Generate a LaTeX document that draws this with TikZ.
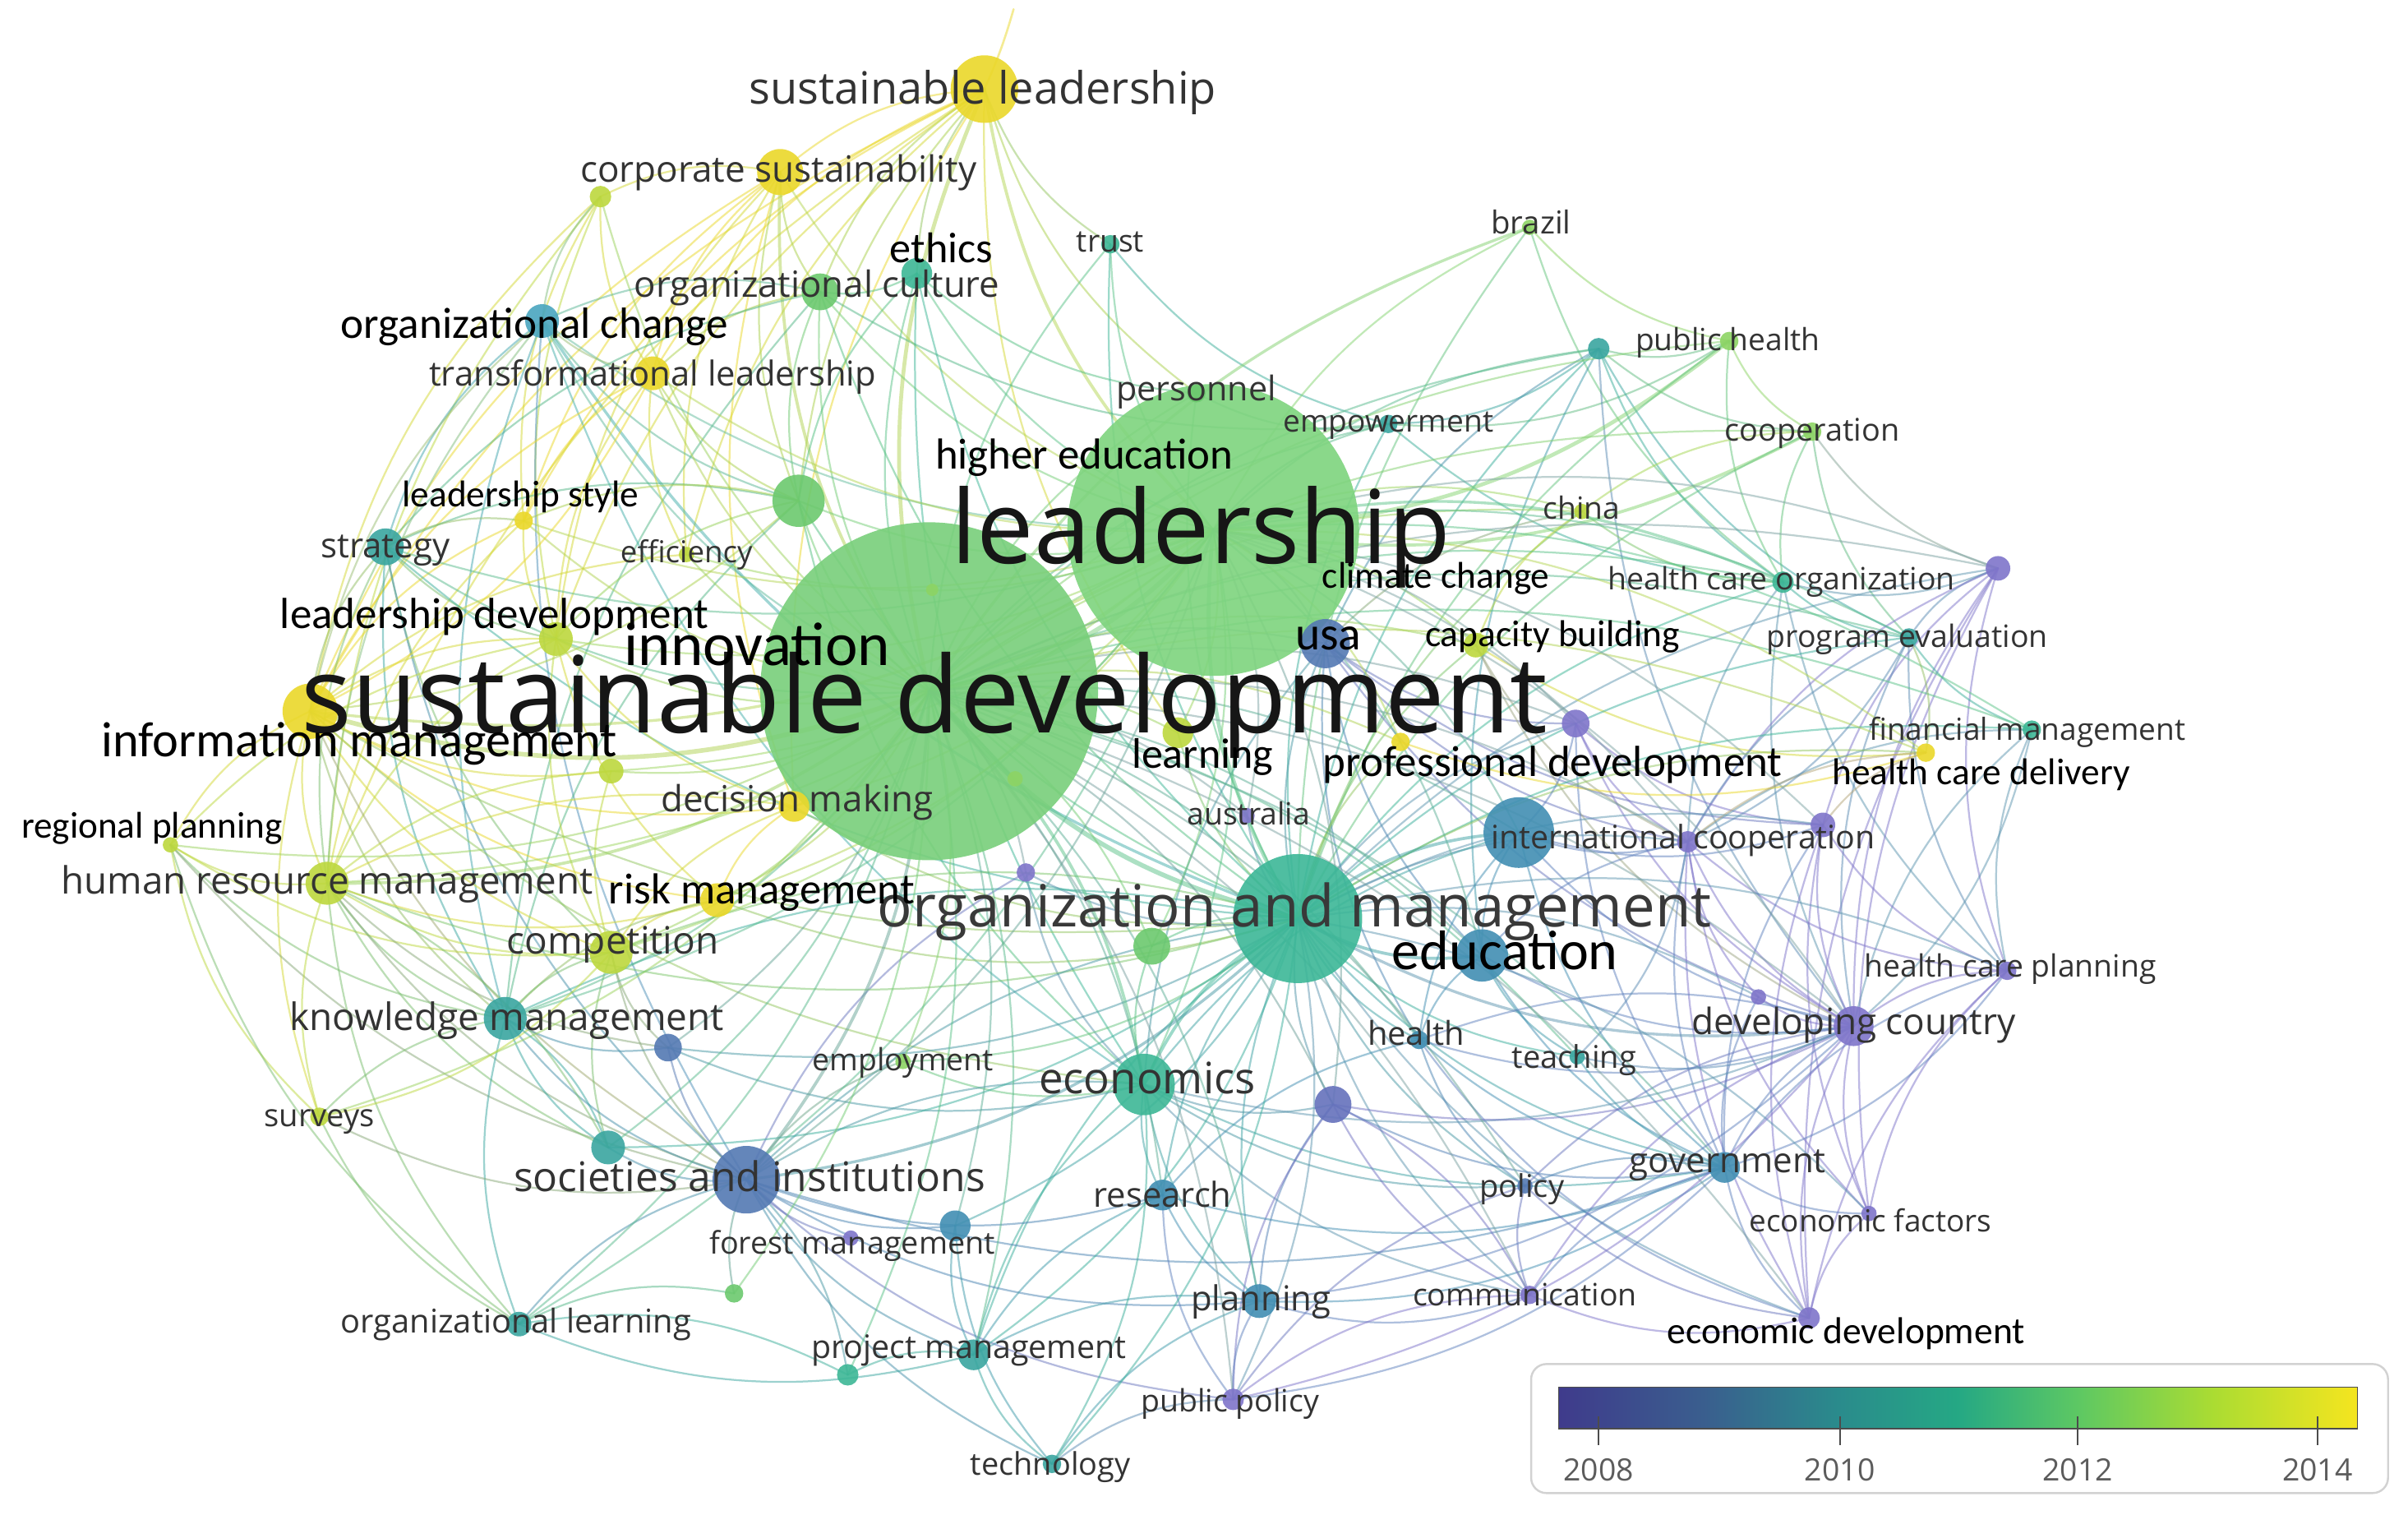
\documentclass[tikz,border=0pt]{standalone}
\usepackage{fontspec}
\usepackage{graphicx}
\newfontfamily\osans{Open Sans}
\newfontfamily\carl{Carlito}
\definecolor{cY}{HTML}{EBD82A}
\definecolor{cYG}{HTML}{BDD83E}
\definecolor{cLG}{HTML}{8DD464}
\definecolor{cG}{HTML}{6CC96E}
\definecolor{cTG}{HTML}{3DB796}
\definecolor{cT}{HTML}{3AA6A0}
\definecolor{cC}{HTML}{4AA6BF}
\definecolor{cBT}{HTML}{428FB3}
\definecolor{cB}{HTML}{5479B3}
\definecolor{cBP}{HTML}{6572BC}
\definecolor{cP}{HTML}{7F75CA}
\definecolor{cSD}{HTML}{78CF7A}
\definecolor{cLD}{HTML}{7ED47E}
\definecolor{cOM}{HTML}{3CB797}
\definecolor{lbl}{HTML}{333333}
\definecolor{dark}{HTML}{161616}
\definecolor{vA}{HTML}{3F3B8C}
\definecolor{vB}{HTML}{3A5E8E}
\definecolor{vC}{HTML}{2A8B8C}
\definecolor{vD}{HTML}{25A884}
\definecolor{vE}{HTML}{5DC863}
\definecolor{vF}{HTML}{ABDC32}
\definecolor{vG}{HTML}{F5E51F}
\pgfdeclarehorizontalshading{viridis}{100bp}{color(0bp)=(vA); color(25bp)=(vA); color(34bp)=(vB); color(42.5bp)=(vC); color(50bp)=(vD); color(57.5bp)=(vE); color(66bp)=(vF); color(75bp)=(vG); color(100bp)=(vG)}
\tikzset{
  edge/.style={draw opacity=0.5, bend right=18, line cap=round},
  bub/.style={circle, inner sep=0pt, draw=none, fill opacity=0.9},
  lab/.style={text=lbl, inner sep=0pt, font=\osans},
  blk/.style={text=black, inner sep=0pt, font=\carl},
  year/.style={text=lbl!80!white, inner sep=0pt, font=\osans\fontsize{20}{20}\selectfont}
}
\newcommand\E[3][1.2]{\draw[edge, line width=#1pt, draw=q#2!50!q#3] (#2) to (#3);}
\newcommand\fx[2]{\resizebox{#1pt}{!}{\raisebox{0pt}[0.72em][0pt]{#2}}}
\newcommand\Lg[5]{\node[lab] (#1) at (#2,#3) {\fx{#4}{#5}};}
\newcommand\Lb[5]{\node[blk] (#1) at (#2,#3) {\fx{#4}{#5}};}
\newcommand\nodelist{%
\N{sd}{605}{450}{110}{cSD}%
\N{ld}{790}{345}{95}{cLD}%
\N{om}{845}{598}{42}{cOM}%
\N{sl}{641}{58}{22}{cY}%
\N{cs}{508}{112}{15}{cY}%
\N{ua}{391}{128}{7}{cYG}%
\N{oc}{534}{190}{12}{cG}%
\N{eth}{597}{178}{10}{cTG}%
\N{tr}{723}{159}{6}{cTG}%
\N{br}{996}{148}{5}{cLG}%
\N{och}{353}{209}{11}{cC}%
\N{tl}{425}{243}{11}{cY}%
\N{pers}{779}{256}{6}{cG}%
\N{emp}{904}{276}{6}{cT}%
\N{ut}{1041}{227}{7}{cT}%
\N{ph}{1126}{222}{6}{cLG}%
\N{coop}{1180}{281}{6}{cLG}%
\N{ub}{520}{326}{17}{cG}%
\N{lst}{341}{339}{6}{cY}%
\N{str}{251}{356}{12}{cT}%
\N{eff}{447}{361}{5}{cYG}%
\N{chi}{1030}{333}{5}{cYG}%
\N{hco}{1161}{379}{7}{cTG}%
\N{up}{1301}{370}{8}{cP}%
\N{ldv}{362}{416}{11}{cYG}%
\N{usa}{863}{419}{16}{cB}%
\N{cb}{961}{420}{8}{cYG}%
\N{pe}{1243}{415}{6}{cT}%
\N{im}{202}{463}{18}{cY}%
\N{uq}{1026}{471}{9}{cP}%
\N{fm}{1323}{475}{6}{cTG}%
\N{lrn}{767}{477}{10}{cYG}%
\N{pdv}{912}{483}{6}{cY}%
\N{hcd}{1254}{490}{6}{cY}%
\N{dm}{517}{525}{10}{cY}%
\N{uc}{398}{502}{8}{cYG}%
\N{rp}{111}{550}{5}{cYG}%
\N{aus}{812}{531}{5}{cP}%
\N{icb}{989}{542}{23}{cBT}%
\N{ici}{1099}{548}{7}{cP}%
\N{ur}{1187}{537}{8}{cP}%
\N{us}{668}{568}{6}{cP}%
\N{hrm}{213}{575}{14}{cYG}%
\N{risk}{467}{586}{11}{cY}%
\N{comp}{398}{620}{14}{cYG}%
\N{uv}{750}{616}{12}{cG}%
\N{edu}{965}{622}{17}{cBT}%
\N{hcp}{1307}{632}{6}{cP}%
\N{uw}{1145}{649}{5}{cP}%
\N{km}{329}{663}{14}{cT}%
\N{dc}{1207}{668}{13}{cP}%
\N{ux}{435}{682}{9}{cB}%
\N{hea}{924}{677}{6}{cBT}%
\N{tea}{1027}{688}{5}{cT}%
\N{emq}{588}{691}{5}{cLG}%
\N{eco}{745}{706}{20}{cTG}%
\N{uy}{868}{719}{12}{cBP}%
\N{sur}{208}{727}{6}{cYG}%
\N{uz}{396}{747}{11}{cT}%
\N{sai}{486}{768}{22}{cB}%
\N{gov}{1123}{760}{10}{cBT}%
\N{res}{757}{778}{10}{cBT}%
\N{pol}{993}{772}{5}{cB}%
\N{ef}{1217}{790}{5}{cP}%
\N{fmg}{622}{798}{10}{cBT}%
\N{uu}{554}{806}{5}{cP}%
\N{ug}{478}{842}{6}{cG}%
\N{pla}{820}{847}{11}{cBT}%
\N{com}{996}{843}{6}{cP}%
\N{ol}{338}{862}{8}{cT}%
\N{ed}{1178}{858}{7}{cP}%
\N{pm}{634}{882}{10}{cT}%
\N{uh}{552}{895}{7}{cTG}%
\N{pp}{803}{911}{7}{cP}%
\N{tec}{685}{953}{6}{cT}%
\N{ia}{607}{384}{4}{cLG}%
\N{ib}{661}{507}{5}{cLG}%
}
\begin{document}
\begin{tikzpicture}[x=1pt,y=-1pt]
\fill[white] (0,0) rectangle (1568,986);
\useasboundingbox (0,0) rectangle (1568,986);
% pass 1: centres and colours
\def\N#1#2#3#4#5{\coordinate (#1) at (#2,#3); \colorlet{q#1}{#5}}
\nodelist
\coordinate (sltop) at (660,6);
% ---------------- edges ----------------
\draw[edge, line width=1.4pt, draw=cY, bend right=4] (sl) to (sltop);
\E[2.5]{sl}{sd} \E[2]{sl}{ld} \E{sl}{cs} \E{sl}{oc} \E{sl}{tl} \E{sl}{ldv} \E{sl}{lst} \E{sl}{ub} \E{sl}{eth} \E{sl}{pers} \E{sl}{im} \E{sl}{dm} \E{sl}{lrn} \E{sl}{hrm} \E{sl}{eff} \E{sl}{tr}
\E{cs}{ua} \E[2]{cs}{sd} \E{cs}{ld} \E{cs}{oc} \E{cs}{tl} \E{cs}{lst} \E{cs}{ldv} \E{cs}{im} \E{cs}{eff} \E{cs}{dm} \E{cs}{ub}
\E{ua}{tl} \E{ua}{ldv} \E{ua}{im} \E{ua}{lst} \E{ua}{sd} \E{ua}{hrm} \E{ua}{och}
\E{oc}{sd} \E{oc}{ld} \E{oc}{eth} \E{oc}{och} \E{oc}{tl} \E{oc}{ub} \E{oc}{str} \E{oc}{km} \E{oc}{om} \E{oc}{emp}
\E{eth}{sd} \E{eth}{ld} \E{eth}{ub} \E{eth}{pers} \E{eth}{om} \E{eth}{eco}
\E{tr}{ld} \E{tr}{sd} \E{tr}{om} \E{tr}{emp}
\E{br}{ld} \E[1.8]{br}{sd} \E{br}{hco} \E{br}{ph} \E{br}{om}
\E{och}{sd} \E{och}{ld} \E{och}{str} \E{och}{ub} \E{och}{tl} \E{och}{km} \E[1.8]{och}{om} \E{och}{im} \E{och}{eco} \E{och}{hrm} \E{och}{sai}
\E{tl}{sd} \E{tl}{ld} \E{tl}{lst} \E{tl}{ldv} \E{tl}{im} \E{tl}{ub} \E{tl}{eff}
\E{pers}{sd} \E{pers}{om} \E{pers}{emp}
\E{emp}{ld} \E{emp}{sd} \E{emp}{om} \E{emp}{ut} \E{emp}{hco} \E{emp}{ph}
\E{ut}{ld} \E{ut}{sd} \E{ut}{ph} \E{ut}{coop} \E{ut}{hco} \E{ut}{pe} \E{ut}{om} \E{ut}{edu} \E{ut}{dc} \E{ut}{usa}
\E[2.5]{ld}{ph} \E{ph}{sd} \E{ph}{coop} \E{ph}{hco} \E{ph}{om}
\E[2]{ld}{coop} \E{coop}{sd} \E{coop}{hco} \E{coop}{pe} \E{coop}{up} \E{coop}{om} \E{coop}{chi}
\E{ub}{sd} \E{ub}{ld} \E{ub}{str} \E{ub}{km} \E{ub}{om} \E{ub}{eco} \E{ub}{lst} \E{ub}{ldv}
\E{lst}{sd} \E{lst}{ld} \E{lst}{ldv} \E{lst}{im} \E{lst}{str} \E{lst}{hrm}
\E{str}{sd} \E{str}{ld} \E{str}{km} \E{str}{hrm} \E{str}{ldv} \E{str}{im} \E{str}{om} \E{str}{comp} \E{str}{sai}
\E{eff}{sd} \E{eff}{ld} \E{eff}{im}
\E{chi}{ld} \E{chi}{sd} \E{chi}{om} \E{chi}{hco} \E{chi}{cb} \E{chi}{usa}
\E[1.8]{hco}{ld} \E{hco}{sd} \E{hco}{om} \E{hco}{up} \E{hco}{pe} \E{hco}{hcp} \E{hco}{dc} \E{hco}{ici}
\E{up}{ld} \E{up}{sd} \E{up}{pe} \E{up}{om} \E{up}{ici} \E{up}{hcp} \E{up}{dc} \E{up}{ed} \E{up}{ef} \E{up}{ur}
\E{ldv}{sd} \E{ldv}{ld} \E{ldv}{im} \E{ldv}{hrm} \E{ldv}{comp} \E{ldv}{risk} \E{ldv}{dm} \E{ldv}{rp}
\E{usa}{sd} \E{usa}{ld} \E{usa}{om} \E{usa}{ici} \E{usa}{edu} \E{usa}{uq} \E{usa}{hea} \E{usa}{eco} \E{usa}{dc} \E{usa}{ur}
\E{cb}{sd} \E{cb}{ld} \E{cb}{om} \E{cb}{hcd} \E{cb}{ici} \E{cb}{dc}
\E{pe}{ld} \E{pe}{sd} \E{pe}{om} \E{pe}{fm} \E{pe}{hcp} \E{pe}{dc} \E{pe}{ici}
\E[3]{im}{sd} \E[1.8]{im}{ld} \E{im}{hrm} \E{im}{rp} \E{im}{comp} \E{im}{km} \E{im}{sur} \E{im}{dm} \E{im}{risk} \E{im}{uc} \E{im}{om} \E{im}{sai} \E{im}{tl} \E{im}{ub} \E{im}{eco}
\E{uq}{sd} \E{uq}{ld} \E{uq}{om} \E{uq}{ici} \E{uq}{dc} \E{uq}{gov} \E{uq}{ur}
\E{fm}{ld} \E{fm}{sd} \E{fm}{om} \E{fm}{hcp} \E{fm}{ici} \E{fm}{dc}
\E{lrn}{sd} \E{lrn}{ld} \E{lrn}{om}
\E{pdv}{sd} \E{pdv}{ld} \E{pdv}{om} \E{pdv}{hcd}
\E{hcd}{ld} \E{hcd}{sd} \E{hcd}{om} \E{hcd}{pe} \E{hcd}{ici} \E{hcd}{ur}
\E{dm}{sd} \E{dm}{ld} \E{dm}{hrm} \E{dm}{risk} \E{dm}{comp} \E{dm}{om}
\E{uc}{sd} \E{uc}{ld} \E{uc}{hrm} \E{uc}{comp}
\E{rp}{hrm} \E{rp}{sd} \E{rp}{comp} \E{rp}{sur} \E{rp}{km} \E{rp}{ol} \E{rp}{sai}
\E{aus}{sd} \E{aus}{om} \E{aus}{ld}
\E{ici}{om} \E{ici}{sd} \E{ici}{ld} \E{ici}{dc} \E{ici}{edu} \E{ici}{gov} \E{ici}{ed} \E{ici}{ef} \E{ici}{hcp} \E{ici}{pe} \E{ici}{uw}
\E[2]{icb}{om} \E{icb}{sd} \E{icb}{ld} \E{icb}{edu} \E{icb}{dc} \E{icb}{gov} \E{icb}{eco} \E{icb}{hea} \E{icb}{ici} \E{icb}{ur} \E{icb}{uq}
\E{ur}{ld} \E{ur}{om} \E{ur}{dc} \E{ur}{gov} \E{ur}{hcp} \E{ur}{ef} \E{ur}{ed}
\E{us}{sd} \E{us}{om} \E{us}{eco} \E{us}{sai}
\E[2]{hrm}{sd} \E{hrm}{ld} \E{hrm}{km} \E{hrm}{comp} \E{hrm}{sur} \E{hrm}{sai} \E{hrm}{ol} \E{hrm}{om} \E{hrm}{risk} \E{hrm}{ux} \E{hrm}{uz}
\E{risk}{sd} \E{risk}{ld} \E{risk}{om} \E{risk}{comp} \E{risk}{km}
\E[3]{sd}{om} \E[2.5]{ld}{om} \E[3]{sd}{ld}
\E[2]{om}{eco} \E[2]{om}{edu} \E{om}{hea} \E{om}{tea} \E{om}{sai} \E{om}{res} \E{om}{pla} \E{om}{pol} \E{om}{gov} \E[1.8]{om}{dc} \E{om}{pm} \E{om}{km} \E{om}{comp} \E{om}{uv} \E{om}{uy} \E{om}{com} \E{om}{ed}
\E{comp}{sd} \E{comp}{ld} \E{comp}{km} \E{comp}{sai} \E{comp}{ux} \E{comp}{uz}
\E{uv}{sd} \E{uv}{ld} \E{uv}{eco}
\E{edu}{sd} \E{edu}{ld} \E{edu}{hea} \E{edu}{tea} \E{edu}{dc} \E{edu}{gov}
\E{hcp}{dc} \E{hcp}{gov} \E{hcp}{ef} \E{hcp}{ed} \E{hcp}{om}
\E{uw}{dc} \E{uw}{om} \E{uw}{gov}
\E{km}{sd} \E{km}{ld} \E{km}{sai} \E{km}{ol} \E{km}{sur} \E{km}{ux} \E{km}{uz}
\E{dc}{sd} \E{dc}{ld} \E{dc}{gov} \E{dc}{ef} \E{dc}{ed} \E{dc}{com} \E{dc}{pol} \E{dc}{hea} \E{dc}{fm}
\E{ux}{sd} \E{ux}{sai} \E{ux}{om} \E{ux}{eco}
\E{hea}{sd} \E{hea}{gov} \E{hea}{dc} \E{hea}{pol} \E{hea}{res} \E{hea}{ed}
\E{tea}{sd} \E{tea}{dc} \E{tea}{gov} \E{tea}{ici}
\E{emq}{sd} \E{emq}{om} \E{emq}{eco} \E{emq}{sai}
\E[2]{eco}{sd} \E{eco}{ld} \E{eco}{res} \E{eco}{pla} \E{eco}{sai} \E{eco}{uy} \E{eco}{gov} \E{eco}{dc} \E{eco}{pm} \E{eco}{pol} \E{eco}{com}
\E{uy}{sd} \E{uy}{ld} \E{uy}{pla} \E{uy}{com} \E{uy}{pp} \E{uy}{gov} \E{uy}{dc}
\E{sur}{sd} \E{sur}{ol} \E{sur}{sai} \E{sur}{comp}
\E{uz}{sd} \E{uz}{om} \E{uz}{sai} \E{uz}{km} \E{uz}{hrm}
\E[2]{sai}{sd} \E{sai}{ld} \E[1.8]{sai}{om} \E{sai}{fmg} \E{sai}{ol} \E{sai}{pm} \E{sai}{pla} \E{sai}{res} \E{sai}{tec} \E{sai}{ug} \E{sai}{uu} \E{sai}{gov} \E{sai}{pp}
\E{gov}{sd} \E{gov}{ef} \E{gov}{ed} \E{gov}{com} \E{gov}{pol} \E{gov}{hcp}
\E{res}{sd} \E{res}{pla} \E{res}{pp} \E{res}{gov} \E{res}{pm}
\E{pol}{sd} \E{pol}{com} \E{pol}{pp} \E{pol}{ed}
\E{ef}{ed} \E{ef}{om}
\E{fmg}{sd} \E{fmg}{om} \E{fmg}{pm} \E{fmg}{tec}
\E{ug}{sd} \E{ug}{ol}
\E{pla}{sd} \E{pla}{pp} \E{pla}{com} \E{pla}{gov} \E{pla}{dc} \E{pla}{tec} \E{pla}{pm}
\E{com}{pp} \E{com}{ed} \E{com}{sd} \E{com}{uy}
\E{ol}{sd} \E{ol}{pm} \E{ol}{ld}
\E{ed}{sd}
\E{pm}{sd} \E{pm}{tec} \E{pm}{om} \E{pm}{uh}
\E{uh}{sai} \E{uh}{sd} \E{uh}{ol}
\E{pp}{sd} \E{pp}{tec} \E{pp}{om} \E{pp}{gov} \E{pp}{dc}
\E{tec}{eco} \E{tec}{om}
% pass 2: circles
\def\N#1#2#3#4#5{\node[bub, fill=#5, minimum size=2*#4] (#1-c) at (#1) {};}
\nodelist
% ---------------- labels ----------------
\node[lab, text=dark] (sd-l) at (602,452) {\fx{811}{sustainable development}};
\node[lab, text=dark] (ld-l) at (782,343) {\fx{325}{leadership}};
\node[lab, text=dark!85!white] (om-l) at (843,590) {\fx{543}{organization and management}};
\Lg{sl-l}{640}{57}{304}{sustainable leadership}
\Lg{cs-l}{507}{110}{258}{corporate sustainability}
\Lg{oc-l}{532}{185}{238}{organizational culture}
\Lg{tr-l}{723}{157}{44}{trust}
\Lg{br-l}{997}{145}{52}{brazil}
\Lg{tl-l}{425}{243}{291}{transformational leadership}
\Lg{pers-l}{779}{253}{104}{personnel}
\Lg{emp-l}{904}{274}{137}{empowerment}
\Lg{ph-l}{1125}{221}{120}{public health}
\Lg{coop-l}{1180}{280}{114}{cooperation}
\Lg{str-l}{251}{355}{84}{strategy}
\Lg{eff-l}{447}{359}{86}{efficiency}
\Lg{chi-l}{1030}{331}{50}{china}
\Lg{hco-l}{1160}{377}{226}{health care organization}
\Lg{pe-l}{1242}{414}{183}{program evaluation}
\Lg{fm-l}{1320}{475}{206}{financial management}
\Lg{dm-l}{519}{520}{177}{decision making}
\Lg{aus-l}{813}{530}{80}{australia}
\Lg{ici-l}{1096}{545}{250}{international cooperation}
\Lg{hrm-l}{213}{573}{346}{human resource management}
\Lg{comp-l}{399}{612}{138}{competition}
\Lg{hcp-l}{1309}{629}{190}{health care planning}
\Lg{km-l}{330}{662}{283}{knowledge management}
\Lg{dc-l}{1207}{665}{211}{developing country}
\Lg{hea-l}{922}{673}{63}{health}
\Lg{tea-l}{1025}{688}{81}{teaching}
\Lg{emq-l}{588}{690}{118}{employment}
\Lg{eco-l}{747}{702}{141}{economics}
\Lg{sur-l}{208}{726}{72}{surveys}
\Lg{sai-l}{488}{766}{307}{societies and institutions}
\Lg{gov-l}{1125}{755}{128}{government}
\Lg{res-l}{757}{778}{90}{research}
\Lg{pol-l}{991}{772}{55}{policy}
\Lg{ef-l}{1218}{795}{158}{economic factors}
\Lg{fmg-l}{555}{809}{186}{forest management}
\Lg{pla-l}{821}{845}{91}{planning}
\Lg{com-l}{993}{843}{146}{communication}
\Lg{ol-l}{336}{860}{228}{organizational learning}
\Lg{pm-l}{631}{877}{205}{project management}
\Lg{pp-l}{801}{912}{116}{public policy}
\Lg{tec-l}{684}{953}{104}{technology}
\Lb{eth-l}{613}{161}{67}{ethics}
\Lb{och-l}{348}{210}{252}{organizational change}
\Lb{hed-l}{706}{295}{194}{higher education}
\Lb{lst-l}{339}{321}{154}{leadership style}
\Lb{cc-l}{935}{374}{148}{climate change}
\Lb{ldv-l}{322}{399}{279}{leadership development}
\Lb{inn-l}{493}{419}{173}{innovation}
\Lb{usa-l}{865}{412}{43}{usa}
\Lb{cb-l}{1011}{412}{166}{capacity building}
\Lb{im-l}{234}{481}{336}{information management}
\Lb{lrn-l}{783}{490}{92}{learning}
\Lb{pdv-l}{1011}{495}{299}{professional development}
\Lb{hcd-l}{1290}{502}{194}{health care delivery}
\Lb{rp-l}{99}{537}{170}{regional planning}
\Lb{risk-l}{496}{578}{199}{risk management}
\Lb{edu-l}{980}{618}{147}{education}
\Lb{ed-l}{1202}{866}{233}{economic development}
% ---------------- legend ----------------
\draw[draw=gray!35, line width=1.3pt, rounded corners=10pt, fill=white] (997,888) rectangle (1555,972);
\shade[shading=viridis, draw=gray!60!black, line width=0.8pt] (1015,903) rectangle (1535,930);
\foreach \xx/\yy in {1041/2008,1198/2010,1353/2012,1509/2014}{
  \draw[gray!60!black, line width=1pt] (\xx,922) -- (\xx,941);
  \node[year] (y\yy) at (\xx,957) {\yy};
}
\end{tikzpicture}
\end{document}
